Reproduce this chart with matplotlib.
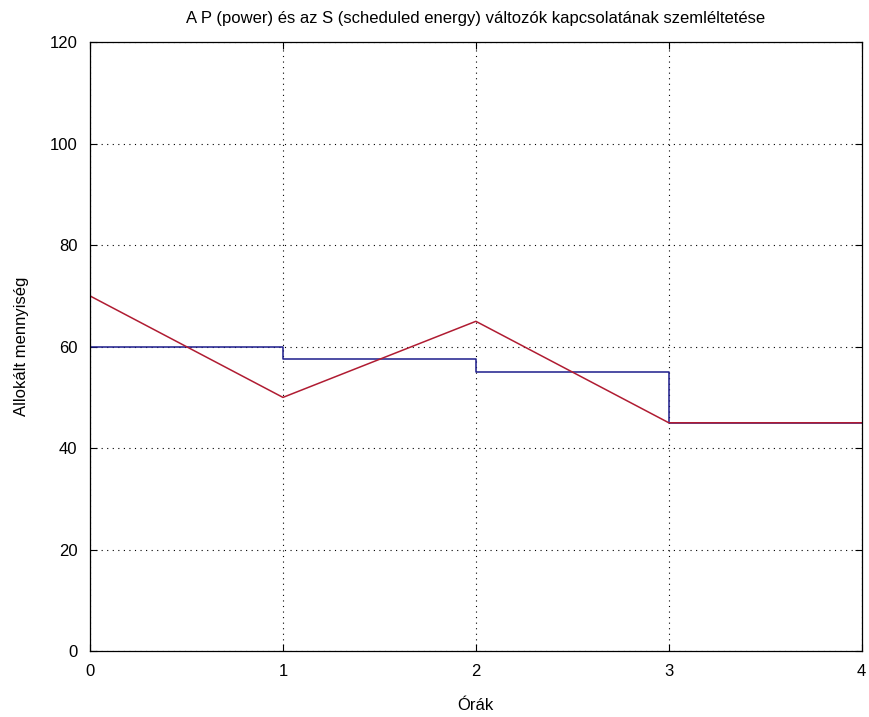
import matplotlib
matplotlib.use("Agg")
import matplotlib.pyplot as plt

plt.rcParams["font.family"] = ["Liberation Sans", "DejaVu Sans"]

# scheduled energy (step) and power (line)
hours = [0, 1, 2, 3, 4]
s_levels = [60, 57.5, 55, 45, 45]
p_values = [70, 50, 65, 45, 45]

fig = plt.figure(figsize=(8.69, 7.17), dpi=100)
ax = fig.add_axes([0.1036, 0.092, 0.888, 0.849])

ax.step(hours, s_levels, where="post", color="#1c1c8c", lw=1.1)
ax.plot(hours, p_values, color="#b01c32", lw=1.1)

ax.set_xlim(0, 4)
ax.set_ylim(0, 120)
ax.set_xticks(range(0, 5))
ax.set_yticks(range(0, 121, 20))
ax.grid(True, color="black", linestyle=(0, (1, 4)), linewidth=0.8)
ax.tick_params(direction="in", top=True, right=True, labelsize=12, length=5)
ax.tick_params(axis="x", pad=9)
ax.tick_params(axis="y", pad=9)
for sp in ax.spines.values():
    sp.set_linewidth(0.9)

ax.set_title("A P (power) és az S (scheduled energy) változók kapcsolatának szemléltetése",
             fontsize=12, pad=14)
ax.set_xlabel("Órák", fontsize=12, labelpad=14)
ax.set_ylabel("Allokált mennyiség", fontsize=12, labelpad=15)

fig.savefig("out.png", dpi=100, facecolor="white")
